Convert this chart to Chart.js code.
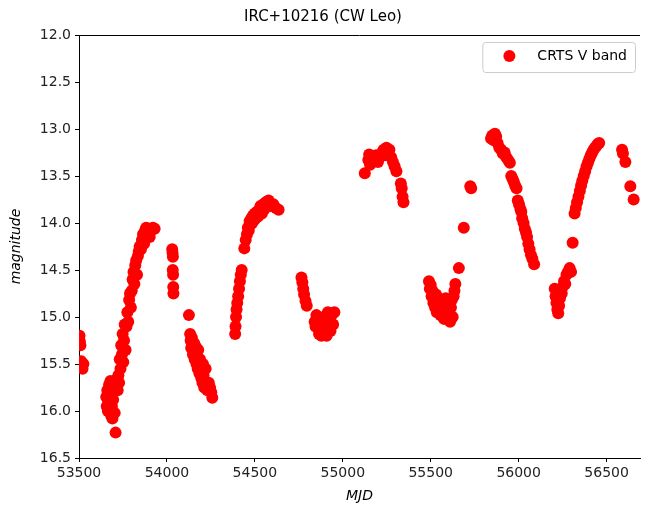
<!DOCTYPE html>
<html>
<head>
<meta charset="utf-8">
<title>IRC+10216 (CW Leo)</title>
<script src="https://cdn.jsdelivr.net/npm/chart.js@4.4.1/dist/chart.umd.min.js"></script>
<style>
  html, body { margin: 0; padding: 0; background: #fff; }
  #wrap { width: 646px; height: 508px; }
</style>
</head>
<body>
<div id="wrap"><canvas id="lightCurve" width="646" height="508"></canvas></div>
<script>
// CRTS V band photometry (MJD / magnitude)
const mjd = [
    53503, 53505, 53508, 53512, 53515, 53520, 53525,
    53655, 53658, 53661, 53664, 53668, 53671, 53675, 53679, 53683, 53687, 53690, 53694, 53698, 53703, 53708,
    53712, 53716, 53720, 53724, 53728, 53732, 53736, 53740, 53744, 53748, 53752, 53756, 53760, 53765, 53770,
    53775, 53780, 53785, 53790, 53795, 53800, 53805, 53810, 53815, 53820, 53825, 53830, 53835, 53840, 53845,
    53852, 53858, 53864, 53870, 53876, 53882, 53888, 53895, 53902, 53910, 53920, 53930,
    54030, 54032, 54034, 54033, 54035, 54036, 54037,
    54125, 54132, 54135, 54138, 54142, 54145, 54148, 54152, 54155, 54158, 54162, 54165, 54168, 54172, 54175,
    54178, 54182, 54185, 54188, 54192, 54195, 54198, 54202, 54205, 54208, 54212, 54216, 54220, 54225, 54230,
    54238, 54245, 54252, 54258,
    54388, 54390, 54393, 54396, 54400, 54405, 54410, 54415, 54420, 54425,
    54440, 54448, 54455, 54460, 54465, 54470, 54475, 54480, 54485, 54490, 54495, 54500, 54505, 54512, 54518,
    54525, 54532, 54540, 54548, 54555, 54562, 54570, 54578, 54590, 54605, 54620, 54635,
    54765, 54770, 54775, 54780, 54788, 54795,
    54840, 54845, 54850, 54858, 54865, 54870, 54878, 54885, 54892, 54900, 54908, 54915, 54922, 54930, 54938,
    54945, 54952,
    55125, 55145, 55150, 55155, 55162, 55170, 55180, 55190, 55200, 55210, 55225, 55232, 55240, 55248, 55255,
    55265, 55275, 55285, 55295, 55305, 55330, 55335, 55340, 55345,
    55490, 55495, 55500, 55505, 55510, 55515, 55520, 55525, 55530, 55535, 55540, 55545, 55550, 55555, 55560,
    55565, 55570, 55575, 55580, 55585, 55590, 55595, 55600, 55605, 55610, 55615, 55620, 55625, 55630, 55635,
    55640, 55660,
    55688, 55725, 55730,
    55843, 55850, 55858, 55865, 55872, 55880, 55890, 55900, 55910, 55920, 55930, 55940, 55950, 55958, 55965,
    55972, 55980, 55988, 55995, 56002, 56010, 56015, 56020, 56028, 56035, 56042, 56048, 56055, 56062, 56070,
    56078, 56088,
    56205, 56210, 56215, 56220, 56225, 56230, 56235, 56240, 56245, 56250, 56258, 56265, 56272, 56280, 56290,
    56298, 56307,
    56318, 56325, 56332, 56340, 56348, 56355, 56362, 56370, 56378, 56386, 56394, 56402, 56410, 56418, 56426,
    56434, 56442, 56450, 56458,
    56588, 56593, 56607, 56635, 56654
];
const mag = [
    15.20, 15.26, 15.30, 15.47, 15.52, 15.55, 15.50,
    15.85, 15.95, 15.78, 16.00, 15.90, 15.72, 15.82, 15.68, 16.05, 15.95, 16.08, 15.88, 15.72, 16.02, 16.23,
    15.75, 15.66, 15.78, 15.62, 15.70, 15.45, 15.55, 15.30, 15.40, 15.18, 15.48, 15.25, 15.08, 15.35, 15.10,
    14.95, 15.05, 14.82, 14.75, 14.90, 14.72, 14.60, 14.52, 14.65, 14.45, 14.40, 14.55, 14.35, 14.30, 14.25,
    14.28, 14.18, 14.12, 14.22, 14.08, 14.05, 14.10, 14.06, 14.15, 14.08, 14.05, 14.06,
    14.28, 14.32, 14.36, 14.50, 14.55, 14.68, 14.75,
    14.98, 15.18, 15.25, 15.33, 15.22, 15.30, 15.40, 15.35, 15.28, 15.45, 15.38, 15.32, 15.50, 15.42, 15.55,
    15.35, 15.48, 15.60, 15.45, 15.52, 15.65, 15.58, 15.70, 15.50, 15.62, 15.75, 15.68, 15.55, 15.72, 15.78,
    15.70, 15.75, 15.80, 15.86,
    15.18, 15.10, 15.00, 14.92, 14.85, 14.78, 14.70, 14.62, 14.55, 14.50,
    14.27, 14.18, 14.12, 14.05, 14.08, 13.98, 14.02, 13.95, 14.00, 13.92, 13.97, 13.90, 13.95, 13.88, 13.93,
    13.86, 13.82, 13.90, 13.80, 13.85, 13.78, 13.80, 13.76, 13.82, 13.80, 13.84, 13.86,
    14.58, 14.63, 14.70, 14.76, 14.83, 14.88,
    15.05, 15.10, 14.98, 15.12, 15.18, 15.05, 15.20, 15.15, 15.00, 15.10, 15.20, 14.95, 15.05, 15.15, 14.98,
    15.08, 14.95,
    13.47, 13.33, 13.27, 13.38, 13.30, 13.35, 13.32, 13.28, 13.35, 13.30, 13.25, 13.22, 13.28, 13.20, 13.25,
    13.22, 13.30, 13.35, 13.40, 13.45, 13.58, 13.63, 13.72, 13.78,
    14.62, 14.70, 14.66, 14.78, 14.72, 14.85, 14.80, 14.90, 14.76, 14.95, 14.85, 14.80, 14.92, 14.98, 14.86,
    14.82, 14.95, 15.02, 14.88, 14.80, 14.93, 15.00, 14.85, 14.95, 15.05, 14.90, 14.82, 15.00, 14.78, 14.72,
    14.65, 14.48,
    14.05, 13.61, 13.63,
    13.10, 13.07, 13.12, 13.05, 13.08, 13.15, 13.20, 13.22, 13.26, 13.25, 13.30, 13.33, 13.36, 13.50, 13.53,
    13.56, 13.60, 13.63, 13.76, 13.80, 13.85, 13.88, 13.95, 14.00, 14.06, 14.10, 14.15, 14.22, 14.28, 14.34,
    14.38, 14.44,
    14.70, 14.78, 14.85, 14.92, 14.96, 14.88, 14.80, 14.72, 14.75, 14.68, 14.62, 14.65, 14.55, 14.52, 14.48,
    14.52, 14.21,
    13.90, 13.84, 13.78, 13.72, 13.66, 13.60, 13.55, 13.50, 13.45, 13.40, 13.36, 13.32, 13.28, 13.25, 13.22,
    13.20, 13.18, 13.16, 13.15,
    13.22, 13.26, 13.35, 13.61, 13.75
];
const xTicks = [53500, 54000, 54500, 55000, 55500, 56000, 56500];
const yTicks = [12.0, 12.5, 13.0, 13.5, 14.0, 14.5, 15.0, 15.5, 16.0, 16.5];
const seriesLabel = 'CRTS V band';

Chart.defaults.font.family = "'DejaVu Sans', sans-serif";
Chart.defaults.font.size = 14;
Chart.defaults.color = '#222';

// matplotlib style extras: top spine and the boxed legend in the upper right
const frameAndLegend = {
    id: 'frameAndLegend',
    afterDraw(chart) {
        const { ctx, chartArea } = chart;
        ctx.save();
        ctx.strokeStyle = '#000';
        ctx.lineWidth = 1;
        ctx.beginPath();
        ctx.moveTo(chartArea.left, chartArea.top + 0.5);
        ctx.lineTo(chartArea.right, chartArea.top + 0.5);
        ctx.stroke();

        const ds = chart.data.datasets[0];
        ctx.font = "14px 'DejaVu Sans', sans-serif";
        const tw = ctx.measureText(ds.label).width;
        const right = chartArea.right - 5;
        const top = chartArea.top + 7;
        const textX = right - 8 - tw;
        const dotX = textX - 28;
        const left = dotX - 27;
        const cy = top + 14;

        ctx.fillStyle = 'rgba(255,255,255,0.8)';
        ctx.strokeStyle = '#cccccc';
        ctx.beginPath();
        ctx.roundRect(left + 0.5, top + 0.5, right - left, 30, 3);
        ctx.fill();
        ctx.stroke();

        ctx.fillStyle = ds.backgroundColor;
        ctx.beginPath();
        ctx.arc(dotX, cy, 6, 0, Math.PI * 2);
        ctx.fill();

        ctx.fillStyle = '#000';
        ctx.textAlign = 'left';
        ctx.textBaseline = 'middle';
        ctx.fillText(ds.label, textX, cy);
        ctx.restore();
    }
};

const points = mjd.map((x, i) => ({ x: x, y: mag[i] }));

new Chart(document.getElementById('lightCurve'), {
    type: 'scatter',
    data: {
        datasets: [{
            label: seriesLabel,
            data: points,
            backgroundColor: '#ff0000',
            borderColor: '#ff0000',
            borderWidth: 0,
            pointRadius: 6,
            pointHoverRadius: 6
        }]
    },
    options: {
        responsive: false,
        animation: false,
        devicePixelRatio: 1,
        layout: { padding: { left: 0, right: 0, top: 0, bottom: 0 } },
        plugins: {
            title: {
                display: true,
                text: 'IRC+10216 (CW Leo)',
                color: '#000',
                font: { size: 15, weight: 'normal' },
                padding: { top: 8, bottom: 9 }
            },
            legend: { display: false },
            tooltip: { enabled: false }
        },
        scales: {
            x: {
                type: 'linear',
                min: 53500,
                max: 56690,
                afterBuildTicks: (scale) => { scale.ticks = xTicks.map(v => ({ value: v })); },
                afterFit: (scale) => { scale.height = 50; },
                ticks: { callback: (v) => String(v), padding: 3, maxRotation: 0 },
                grid: { drawOnChartArea: false, drawTicks: true, tickLength: 4, color: '#000' },
                border: { display: true, color: '#000', width: 1 },
                title: { display: true, text: 'MJD', color: '#000', font: { size: 14, style: 'italic' }, padding: { top: 0, bottom: 3 } }
            },
            y: {
                type: 'linear',
                reverse: true,
                min: 12,
                max: 16.5,
                afterBuildTicks: (scale) => { scale.ticks = yTicks.map(v => ({ value: v })); },
                afterFit: (scale) => { scale.width = 79; },
                ticks: { callback: (v) => Number(v).toFixed(1), padding: 4 },
                grid: { drawOnChartArea: false, drawTicks: true, tickLength: 4, color: '#000' },
                border: { display: true, color: '#000', width: 1 },
                title: { display: true, text: 'magnitude', color: '#000', font: { size: 14, style: 'italic' }, padding: { top: 8, bottom: 0 } }
            }
        }
    },
    plugins: [frameAndLegend]
});
</script>
</body>
</html>
